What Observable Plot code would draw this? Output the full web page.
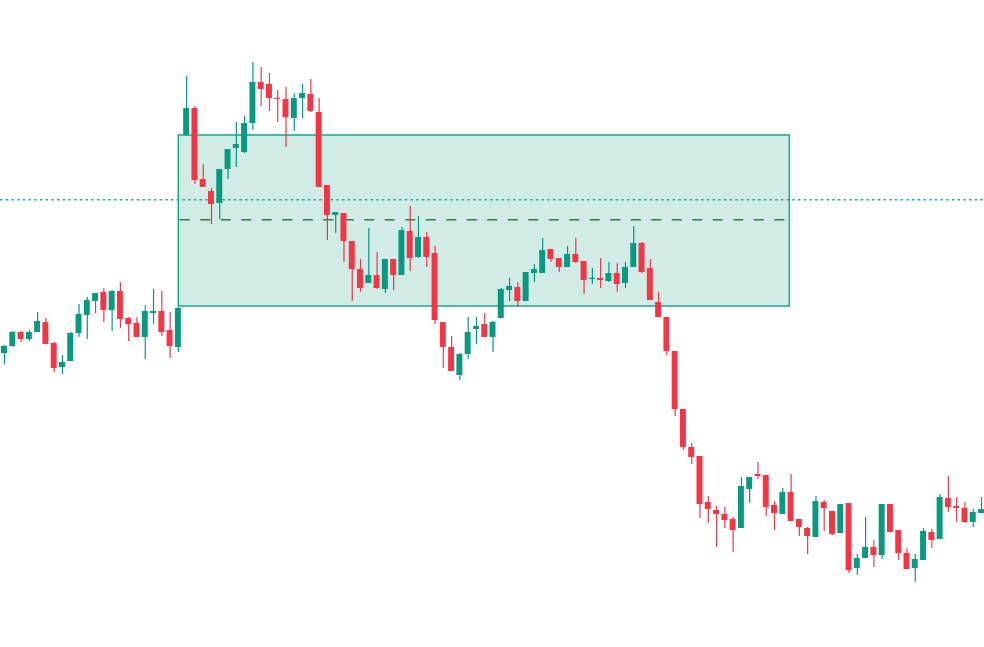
<!DOCTYPE html>
<html>
<head>
<meta charset="utf-8">
<script src="https://cdn.jsdelivr.net/npm/d3@7"></script>
<script src="https://cdn.jsdelivr.net/npm/@observablehq/plot@0.6"></script>
<style>
  html, body { margin: 0; padding: 0; background: #ffffff; overflow: hidden; }
  #chart svg { display: block; }
</style>
</head>
<body>
<div id="chart"></div>
<script>
// OHLC series (bar index 0..119)
const open = [31.8,34.7,35.4,36.8,36.1,36.8,37.8,35.7,33.3,33.9,36.7,38.5,39.9,40.8,39.0,40.9,38.2,37.7,36.3,38.7,
  38.9,37.0,35.3,56.5,59.2,52.1,50.9,49.7,53.1,55.2,54.8,57.7,61.8,61.6,60.2,60.1,58.2,60.2,60.6,58.8,
  51.5,48.5,48.7,45.9,43.1,41.7,42.5,41.1,44.1,42.5,46.9,44.3,46.3,44.7,37.8,35.3,32.5,34.6,37.1,37.6,
  36.3,38.2,41.0,41.3,39.9,42.7,42.7,45.1,44.2,43.3,44.6,43.9,42.1,42.2,41.9,42.7,41.7,43.3,45.7,43.2,
  39.8,38.3,34.9,29.1,25.3,24.4,19.8,19.0,18.6,18.1,17.2,21.1,22.6,22.5,19.5,18.6,20.8,18.1,17.2,16.3,
  19.8,18.9,16.7,19.7,13.2,14.2,15.3,14.5,19.6,17.0,14.7,13.2,14.0,16.8,16.1,20.2,19.4,19.2,17.8,18.7];
const high = [33.7,35.5,36.9,36.9,37.0,38.8,38.2,35.8,34.5,36.8,39.6,40.3,40.7,41.2,41.0,41.8,38.3,38.3,39.5,41.1,
  40.9,38.8,39.3,62.4,59.4,53.6,51.2,53.1,55.1,57.8,58.4,63.8,63.3,62.7,61.0,61.3,60.7,61.6,62.1,60.2,
  51.5,48.8,48.7,45.9,44.1,47.2,44.8,44.1,44.1,47.3,49.4,48.4,46.8,45.4,37.8,36.4,34.7,38.3,38.3,38.7,
  37.9,41.2,42.2,41.8,42.8,43.6,46.2,45.1,44.2,45.4,46.2,43.9,43.2,44.2,43.8,43.7,43.8,47.4,45.8,44.1,
  40.8,38.3,34.9,29.1,25.7,24.4,20.4,19.4,19.3,18.3,22.3,22.3,23.8,22.5,19.9,21.2,22.6,18.1,17.3,20.4,
  20.0,18.9,19.6,19.7,14.6,18.3,16.0,19.6,19.6,17.0,15.2,14.6,17.2,17.1,20.6,22.4,20.3,19.8,19.1,20.3];
const low = [31.6,33.6,35.3,35.8,35.9,36.8,35.6,32.8,32.6,33.9,36.3,36.1,38.7,37.8,36.9,37.2,35.9,36.3,34.1,37.6,
  36.4,34.2,34.8,56.5,51.6,51.3,47.6,48.1,52.1,53.3,54.7,57.0,59.4,58.9,57.8,55.3,56.9,58.2,58.8,51.3,
  46.0,46.7,43.8,39.9,40.8,41.7,41.1,40.7,41.0,42.5,42.9,44.2,43.3,37.6,33.2,32.9,32.0,34.1,35.6,36.3,
  34.8,38.2,39.9,39.3,39.9,41.8,42.7,43.8,42.8,43.3,43.7,40.6,41.6,41.2,41.8,40.8,41.2,43.3,42.7,40.0,
  38.3,34.5,28.4,25.0,23.6,18.2,17.7,15.3,17.2,14.8,17.2,19.7,22.1,18.4,17.0,18.6,17.9,16.4,14.6,16.3,
  16.9,16.5,16.7,12.7,12.5,14.2,13.3,14.1,16.8,14.0,13.1,11.8,14.0,15.2,16.1,18.8,17.8,17.7,17.3,18.7];
const close = [33.5,35.4,36.8,36.1,36.8,37.9,35.6,33.2,33.8,36.7,38.6,40.0,40.7,39.0,40.9,38.1,37.6,36.3,38.9,38.9,
  36.8,35.4,39.2,59.2,52.0,51.3,49.6,53.1,55.1,55.6,57.7,61.8,61.1,60.2,60.1,58.3,60.2,60.7,58.9,51.3,
  48.5,48.8,45.9,43.1,41.2,42.5,41.2,44.1,42.5,47.0,44.2,46.3,44.3,38.0,35.3,32.9,34.6,36.8,37.4,36.3,
  37.8,41.1,41.4,39.9,42.8,43.1,45.0,44.1,43.3,44.6,43.8,42.0,42.2,42.0,42.7,41.6,43.3,45.7,42.8,40.0,
  38.3,34.9,29.1,25.3,24.3,19.6,19.1,18.6,18.0,17.0,21.4,22.3,22.4,19.3,18.7,20.8,17.9,17.3,16.4,19.9,
  19.2,16.6,19.6,13.0,14.2,15.3,14.5,19.6,16.8,14.7,13.1,14.1,16.9,16.0,20.3,19.3,19.2,17.8,18.8,19.1];

// Position box annotation (bar index range and price levels)
const boxStart = 22.05, boxEnd = 95.85;
const boxTop = 56.5, boxBottom = 39.4;
const midLevel = 48.07;     // dashed line inside box
const lastLevel = 50.07;    // dotted price line

const UP = "#089981", DOWN = "#f23645";

const candles = open.map((o, i) => {
  const c = close[i];
  const top = Math.max(o, c), bot = Math.min(o, c);
  return {
    i, o, h: high[i], l: low[i], c,
    top: top - bot < 0.12 ? bot + 0.12 : top,
    bot,
    color: c >= o ? UP : DOWN
  };
});

const W = 984, H = 647;
const chart = Plot.plot({
  width: W,
  height: H,
  margin: 0,
  style: { background: "#ffffff", overflow: "hidden" },
  x: { domain: [0.517, 119.36], axis: null },
  y: { domain: [5.3, 70], axis: null },
  marks: [
    Plot.rect([{x1: boxStart, x2: boxEnd, y1: boxBottom, y2: boxTop}], {
      x1: "x1", x2: "x2", y1: "y1", y2: "y2",
      fill: "#d1ebe6", stroke: "#22ab94", strokeWidth: 1.6
    }),
    Plot.ruleY([lastLevel], { stroke: "#22ab94", strokeWidth: 1.4, strokeDasharray: "2.5,3.2" }),
    Plot.ruleY([{y: midLevel, x1: boxStart, x2: boxEnd}], {
      y: "y", x1: "x1", x2: "x2", stroke: "#2f7a3c", strokeWidth: 1.5, strokeDasharray: "10,10.5", dx: 1.5
    }),
    Plot.ruleX(candles, { x: "i", y1: "l", y2: "h", stroke: d => d.color, strokeWidth: 1.2 }),
    Plot.rect(candles, {
      x1: d => d.i - 0.36, x2: d => d.i + 0.36,
      y1: "bot", y2: "top",
      fill: d => d.color
    })
  ]
});
document.getElementById("chart").appendChild(chart);
</script>
</body>
</html>
